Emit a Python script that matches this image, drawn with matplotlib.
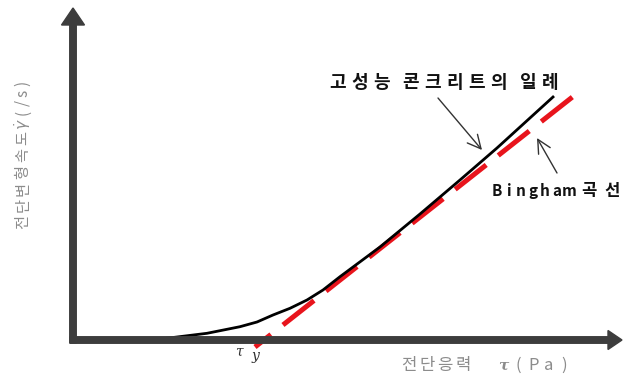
"""Schematic flow curve: high-performance concrete vs. Bingham model."""
import matplotlib
matplotlib.use("Agg")
import matplotlib.pyplot as plt

# --- data (x = shear stress, y = shear rate, arbitrary units) ---
tau_curve = [7.7, 10.0, 13.4, 16.7, 18.4, 20.0, 21.7, 23.4, 25.0, 26.7,
             30.7, 34.7, 38.7, 42.4, 48.0]
gamma_curve = [0.0, 0.25, 0.67, 1.33, 1.8, 2.5, 3.17, 4.0, 5.0, 6.33,
               9.3, 12.6, 16.0, 19.2, 24.3]

tau_bingham = [18.2, 50.2]
gamma_bingham = [-0.7, 24.5]

curve_label = "고성능 콘크리트의 일례"
bingham_word = "Bingham"
bingham_kr = "곡선"
xlabel_kr = "전단응력"
xlabel_unit = "(Pa)"
ylabel_kr = "전단변형속도"
ylabel_unit = "(/s)"

KR = ["Noto Sans CJK KR", "DejaVu Sans"]
GRAY = "#8c8c8c"
AXIS = "#3d3d3d"


def spaced(ax, x0, y0, text, step, space=0.0, vertical=False, **kw):
    """Place characters one by one with fixed spacing (letter-spaced look)."""
    pos = x0 if not vertical else y0
    for ch in text:
        if ch == " ":
            pos += space
            continue
        if vertical:
            ax.text(x0, pos, ch, rotation=90, ha="center", va="center", **kw)
        else:
            ax.text(pos, y0, ch, ha="center", va="center", **kw)
        pos += step


fig = plt.figure(figsize=(6.23, 3.78), dpi=100)
ax = fig.add_axes([0, 0, 1, 1])
ax.set_xlim(-7.3, 55.0)
ax.set_ylim(-3.8, 34.0)
ax.axis("off")

# Bingham line (red dashed) and measured curve (black)
ax.plot(tau_bingham, gamma_bingham, color="#e8141c", lw=3.6,
        linestyle=(3.84, (7.9, 3.06)), zorder=2)
ax.plot(tau_curve, gamma_curve, color="black", lw=2.0, zorder=3)

# axes as thick arrows
ax.arrow(0, -0.3, 0, 33.5, width=0.65, head_width=2.3, head_length=1.7,
         length_includes_head=True, color=AXIS, zorder=4)
ax.arrow(-0.3, 0, 55.2, 0, width=0.65, head_width=1.9, head_length=1.4,
         length_includes_head=True, color=AXIS, zorder=4)

# y axis label (reads bottom to top)
spaced(ax, -5.0, 11.8, ylabel_kr, step=1.67, vertical=True,
       family=KR, fontsize=11, color=GRAY)
ax.text(-5.0, 21.6, r"$\dot{\gamma}$", rotation=90, ha="center", va="center",
        fontsize=11, color=GRAY)
spaced(ax, -5.0, 22.8, ylabel_unit, step=0.95, vertical=True,
       family=KR, fontsize=11, color=GRAY)

# x axis label
spaced(ax, 33.6, -2.55, xlabel_kr, step=1.8, family=KR, fontsize=12, color=GRAY)
ax.text(43.0, -2.55, "τ", family="DejaVu Serif", style="italic", weight="bold",
        fontsize=11, color=GRAY, ha="center", va="center")
spaced(ax, 44.5, -2.55, xlabel_unit, step=1.55, family=KR, fontsize=12, color=GRAY)

# tau_y
ax.text(16.6, -1.15, "τ", family="DejaVu Serif", style="italic",
        fontsize=10, color="#333333", ha="center", va="center")
ax.text(18.2, -1.6, "y", family="DejaVu Serif", style="italic",
        fontsize=10, color="#333333", ha="center", va="center")

# annotations
spaced(ax, 26.45, 25.75, curve_label, step=2.18, space=0.8, family=KR,
       fontsize=13, weight="bold", color="#111111")
spaced(ax, 42.4, 14.9, bingham_word, step=1.2, family=KR,
       fontsize=11, weight="bold", color="#111111")
spaced(ax, 51.6, 14.9, bingham_kr, step=2.3, family=KR,
       fontsize=12, weight="bold", color="#111111")

arrow_kw = dict(arrowstyle="->,head_length=0.6,head_width=0.3", color="#333333",
                lw=1.0, shrinkA=0, shrinkB=0, mutation_scale=16)
ax.annotate("", xy=(40.9, 19.0), xytext=(36.5, 24.2), arrowprops=arrow_kw)
ax.annotate("", xy=(46.4, 20.2), xytext=(48.4, 16.7), arrowprops=arrow_kw)

fig.savefig("out.png", dpi=100)
